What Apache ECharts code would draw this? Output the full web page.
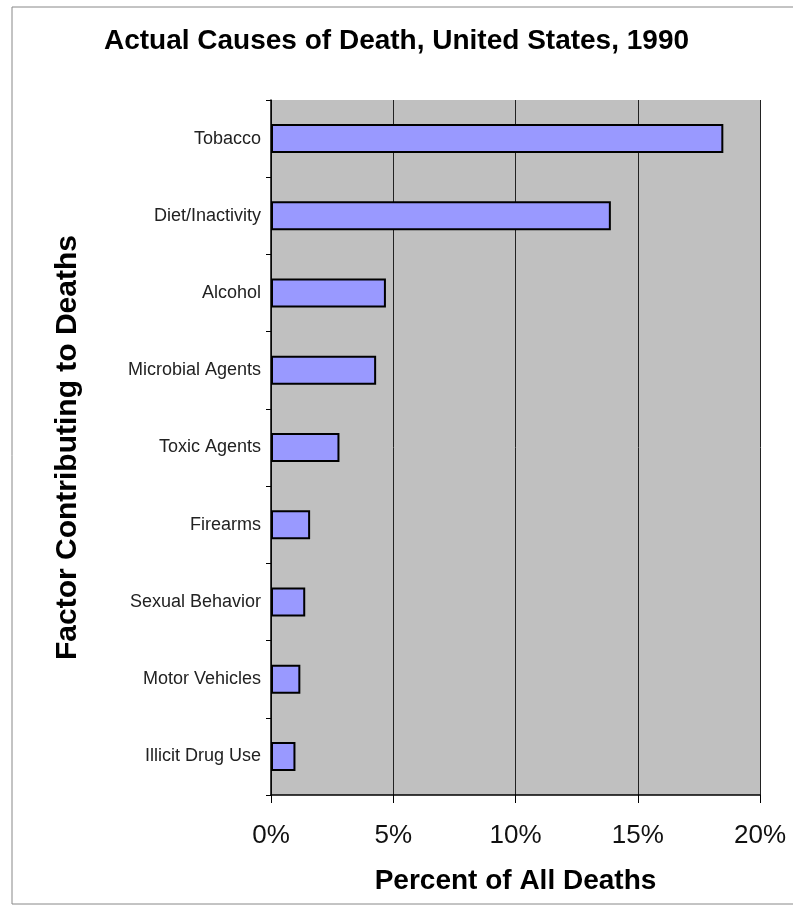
<!DOCTYPE html>
<html><head><meta charset="utf-8">
<script src="https://cdn.jsdelivr.net/npm/echarts@6/dist/echarts.min.js"></script>
<style>html,body{margin:0;padding:0;background:#fff}#c{width:793px;height:911px}</style>
</head><body><div id="c"></div>
<script>
const categories = ["Tobacco","Diet/Inactivity","Alcohol","Microbial Agents","Toxic Agents","Firearms","Sexual Behavior","Motor Vehicles","Illicit Drug Use"];
const values = [18.5, 13.9, 4.7, 4.3, 2.8, 1.6, 1.4, 1.2, 1.0];
const xTicks = [0, 5, 10, 15, 20];
const chart = echarts.init(document.getElementById('c'));
chart.setOption({
  animation: false,
  backgroundColor: '#fff',
  title: {
    text: 'Actual Causes of Death, United States, 1990',
    left: 'center', top: 22,
    textStyle: {fontFamily: 'Liberation Sans', fontWeight: 'bold', fontSize: 28, color: '#000'}
  },
  graphic: [{type: 'rect', shape: {x: 12, y: 7, width: 790, height: 897}, style: {fill: 'none', stroke: '#888', lineWidth: 1}, silent: true}],
  grid: {left: 271, top: 100, right: 33, bottom: 116, show: true, backgroundColor: '#c0c0c0', borderWidth: 0},
  xAxis: {
    type: 'value', min: xTicks[0], max: xTicks[xTicks.length-1], interval: 5,
    name: 'Percent of All Deaths', nameLocation: 'middle', nameGap: 72,
    nameTextStyle: {fontFamily: 'Liberation Sans', fontWeight: 'bold', fontSize: 28, color: '#000'},
    axisLine: {show: true, lineStyle: {color: '#000', width: 1.5}},
    axisTick: {show: true, length: 8, lineStyle: {color: '#000'}},
    axisLabel: {formatter: v => v + '%', fontFamily: 'Liberation Sans', fontSize: 26, color: '#111', margin: 28},
    splitLine: {show: true, lineStyle: {color: '#222', width: 1}}
  },
  yAxis: {
    type: 'category', data: categories, inverse: true,
    name: 'Factor Contributing to Deaths', nameLocation: 'middle', nameGap: 188,
    nameTextStyle: {fontFamily: 'Liberation Sans', fontWeight: 'bold', fontSize: 30, color: '#000'},
    axisLine: {show: true, lineStyle: {color: '#000', width: 1.5}},
    axisTick: {show: true, length: 5, lineStyle: {color: '#000'}},
    axisLabel: {fontFamily: 'Liberation Sans', fontSize: 18, color: '#222', margin: 10}
  },
  series: [{
    type: 'bar', data: values, barWidth: 29,
    itemStyle: {color: '#9999ff', borderColor: '#000', borderWidth: 2}
  }]
});
</script></body></html>
